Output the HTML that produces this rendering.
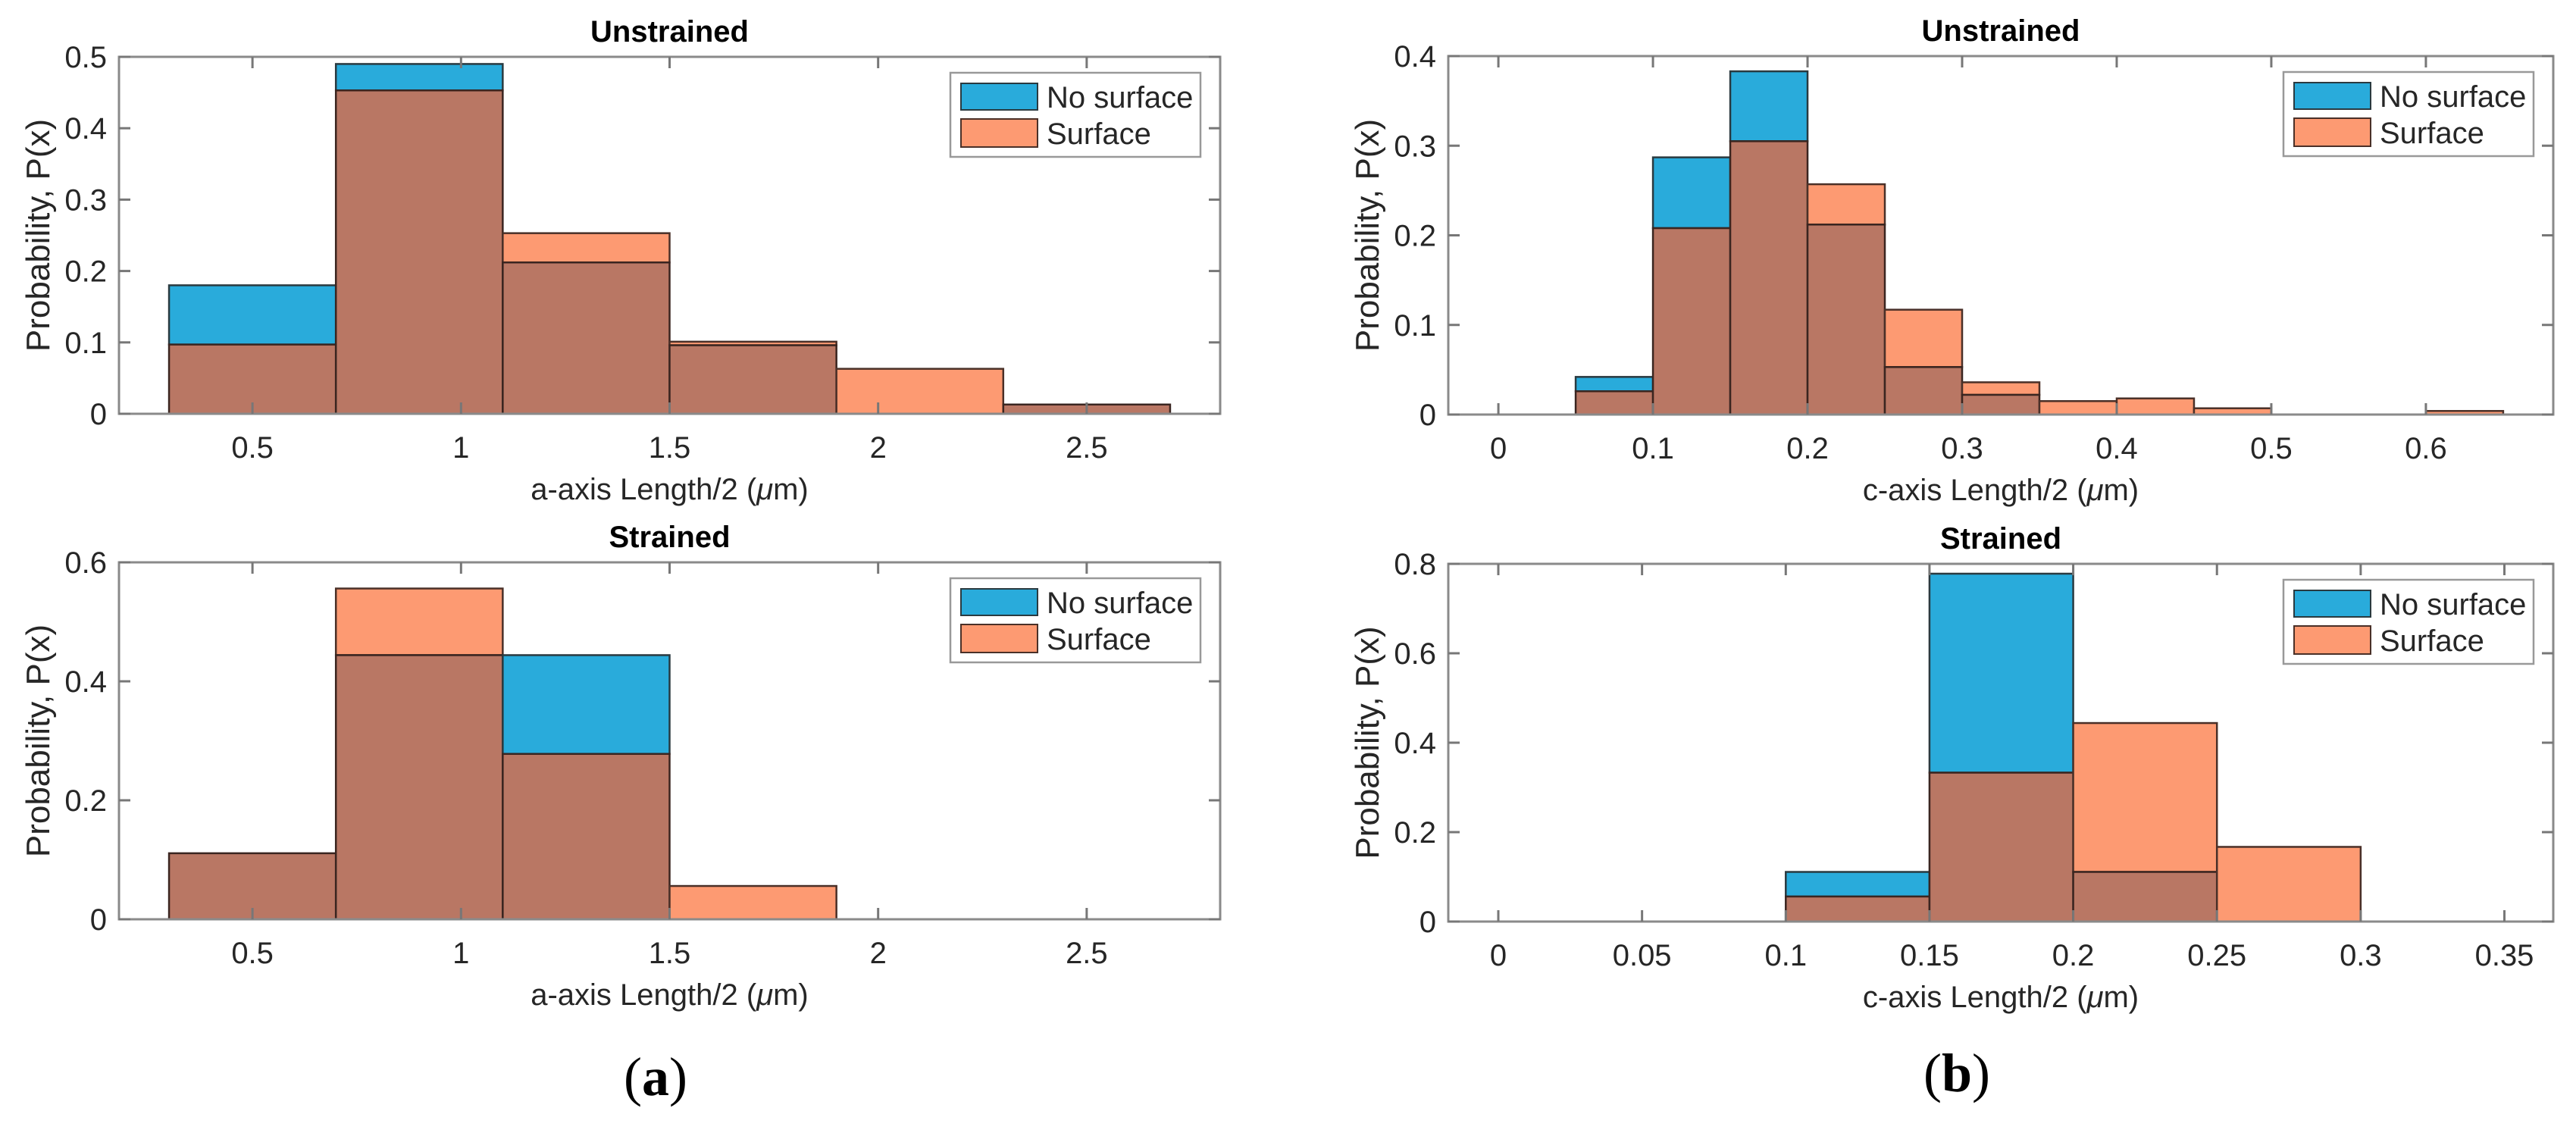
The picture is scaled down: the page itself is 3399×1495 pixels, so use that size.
<!DOCTYPE html>
<html><head><meta charset="utf-8"><style>
body{margin:0;background:#fff}
svg text{font-family:"Liberation Sans",sans-serif;fill:#262626}
</style></head><body>
<svg id="fig" width="3399" height="1490" viewBox="0 0 3399 1490" xmlns="http://www.w3.org/2000/svg">
<text x="823" y="1445" style="font-family:'Liberation Serif',serif;font-size:72px;fill:#000">(<tspan font-weight="bold">a</tspan>)</text>
<text x="2582" y="1440" text-anchor="middle" style="font-family:'Liberation Serif',serif;font-size:72px;fill:#000">(<tspan font-weight="bold">b</tspan>)</text>
</svg>
<script>
// Panel data
const aUnEdges=[0.3,0.7,1.1,1.5,1.9,2.3,2.7];
const aUnNoSurf=[0.18,0.49,0.212,0.096,0,0.013];
const aUnSurf=[0.097,0.453,0.253,0.101,0.063,0.013];
const aStEdges=[0.3,0.7,1.1,1.5,1.9,2.3,2.7];
const aStNoSurf=[0.111,0.444,0.444,0,0,0];
const aStSurf=[0.111,0.556,0.278,0.056,0,0];
const cUnEdges=[0,0.05,0.1,0.15,0.2,0.25,0.3,0.35,0.4,0.45,0.5,0.55,0.6,0.65];
const cUnNoSurf=[0,0.042,0.287,0.383,0.212,0.053,0.022,0,0,0,0,0,0];
const cUnSurf=[0,0.026,0.208,0.305,0.257,0.117,0.036,0.015,0.018,0.007,0,0,0.004];
const cStEdges=[0,0.05,0.1,0.15,0.2,0.25,0.3,0.35];
const cStNoSurf=[0,0,0.111,0.778,0.111,0,0];
const cStSurf=[0,0,0.056,0.333,0.444,0.167,0];
const aXTicks=[0.5,1,1.5,2,2.5];
const aXTickLabels=["0.5","1","1.5","2","2.5"];
const cUnXTicks=[0,0.1,0.2,0.3,0.4,0.5,0.6];
const cUnXTickLabels=["0","0.1","0.2","0.3","0.4","0.5","0.6"];
const cStXTicks=[0,0.05,0.1,0.15,0.2,0.25,0.3,0.35];
const cStXTickLabels=["0","0.05","0.1","0.15","0.2","0.25","0.3","0.35"];
const yTicksUnA=[0,0.1,0.2,0.3,0.4,0.5];
const yTickLabelsUnA=["0","0.1","0.2","0.3","0.4","0.5"];
const yTicksStA=[0,0.2,0.4,0.6];
const yTickLabelsStA=["0","0.2","0.4","0.6"];
const yTicksUnC=[0,0.1,0.2,0.3,0.4];
const yTickLabelsUnC=["0","0.1","0.2","0.3","0.4"];
const yTicksStC=[0,0.2,0.4,0.6,0.8];
const yTickLabelsStC=["0","0.2","0.4","0.6","0.8"];

const NS="http://www.w3.org/2000/svg";
const svg=document.getElementById('fig');
function mk(tag,attrs,parent){const e=document.createElementNS(NS,tag);for(const k in attrs)e.setAttribute(k,attrs[k]);(parent||svg).appendChild(e);return e;}

function panel(o){
  const g=mk('g',{});
  
  
  const xs=v=>o.L+(v-o.x0)/(o.x1-o.x0)*(o.R-o.L);
  const ys=v=>o.B-(v-o.y0)/(o.y1-o.y0)*(o.B-o.T);
  for(let i=0;i<o.ns.length;i++){
    const xa=xs(o.edges[i]),xb=xs(o.edges[i+1]);
    const a=o.ns[i],b=o.sf[i],m=Math.min(a,b);
    if(a>m){const r=mk('rect',{x:xa,y:ys(a),width:xb-xa,height:ys(m)-ys(a),fill:'#29abdb',stroke:'#2a3a40','stroke-width':2.5},g);
      
      }
    if(b>m){const r=mk('rect',{x:xa,y:ys(b),width:xb-xa,height:ys(m)-ys(b),fill:'#fd9a72',stroke:'#4a3028','stroke-width':2.5},g);
      
      }
    const r=mk('rect',{x:xa,y:ys(m),width:xb-xa,height:ys(0)-ys(m),fill:'#b97764',stroke:'#3a2520','stroke-width':2.5},g);
    
    
  }
  const box=mk('rect',{x:o.L,y:o.T,width:o.R-o.L,height:o.B-o.T,fill:'none',stroke:'#8a8a8a','stroke-width':3},g);
  
  
  o.xt.forEach((v,i)=>{
    const x=xs(v);
    mk('line',{x1:x,x2:x,y1:o.B,y2:o.B-15,stroke:'#777','stroke-width':3},g);
    mk('line',{x1:x,x2:x,y1:o.T,y2:o.T+15,stroke:'#777','stroke-width':3},g);
    const t=mk('text',{x:x,y:o.B+58,'text-anchor':'middle','font-size':40},g);
    t.textContent=o.xl[i];
    
    
  });
  o.yt.forEach((v,i)=>{
    const y=ys(v);
    mk('line',{x1:o.L,x2:o.L+15,y1:y,y2:y,stroke:'#777','stroke-width':3},g);
    mk('line',{x1:o.R,x2:o.R-15,y1:y,y2:y,stroke:'#777','stroke-width':3},g);
    const t=mk('text',{x:o.L-16,y:y+14,'text-anchor':'end','font-size':40},g);
    t.textContent=o.yl[i];
    
    
  });
  const cx=(o.L+o.R)/2;
  const tt=mk('text',{x:cx,y:o.T-20,'text-anchor':'middle','font-size':40,'font-weight':'bold',fill:'#000'},g);
  tt.textContent=o.title;tt.style.fill='#000';
  
  
  const xl=mk('text',{x:cx,y:o.B+113,'text-anchor':'middle','font-size':40},g);
  xl.innerHTML=o.xlabel+' (<tspan font-style="italic">\u03bc</tspan>m)';
  
  
  const yl=mk('text',{x:0,y:0,'text-anchor':'middle','font-size':44,transform:`translate(${o.L-92},${(o.T+o.B)/2}) rotate(-90)`},g);
  yl.textContent='Probability, P(x)';
  
  
  // legend
  const lx=o.R-356,ly=o.T+21;
  const lg=mk('g',{},g);
  
  
  mk('rect',{x:lx,y:ly,width:330,height:111,fill:'#fff',stroke:'#999','stroke-width':2.5},lg);
  mk('rect',{x:lx+14,y:ly+14,width:101,height:35,fill:'#29abdb',stroke:'#2a3a40','stroke-width':2},lg);
  mk('rect',{x:lx+14,y:ly+61,width:101,height:37,fill:'#fd9a72',stroke:'#4a3028','stroke-width':2},lg);
  const t1=mk('text',{x:lx+127,y:ly+46,'font-size':40},lg);t1.textContent='No surface';
  
  
  const t2=mk('text',{x:lx+127,y:ly+94,'font-size':40},lg);t2.textContent='Surface';
  
  
}
panel({name:'panel-a-unstrained',L:157,R:1610,T:75,B:546,x0:0.18,x1:2.82,y0:0,y1:0.5,edges:aUnEdges,ns:aUnNoSurf,sf:aUnSurf,xt:aXTicks,xl:aXTickLabels,yt:yTicksUnA,yl:yTickLabelsUnA,title:'Unstrained',xlabel:'a-axis Length/2'});
panel({name:'panel-a-strained',L:157,R:1610,T:742,B:1213,x0:0.18,x1:2.82,y0:0,y1:0.6,edges:aStEdges,ns:aStNoSurf,sf:aStSurf,xt:aXTicks,xl:aXTickLabels,yt:yTicksStA,yl:yTickLabelsStA,title:'Strained',xlabel:'a-axis Length/2'});
panel({name:'panel-b-unstrained',L:1911,R:3369,T:74,B:547,x0:-0.0324,x1:0.6824,y0:0,y1:0.4,edges:cUnEdges,ns:cUnNoSurf,sf:cUnSurf,xt:cUnXTicks,xl:cUnXTickLabels,yt:yTicksUnC,yl:yTickLabelsUnC,title:'Unstrained',xlabel:'c-axis Length/2'});
panel({name:'panel-b-strained',L:1911,R:3369,T:744,B:1216,x0:-0.0174,x1:0.367,y0:0,y1:0.8,edges:cStEdges,ns:cStNoSurf,sf:cStSurf,xt:cStXTicks,xl:cStXTickLabels,yt:yTicksStC,yl:yTickLabelsStC,title:'Strained',xlabel:'c-axis Length/2'});
</script>
</body></html>
